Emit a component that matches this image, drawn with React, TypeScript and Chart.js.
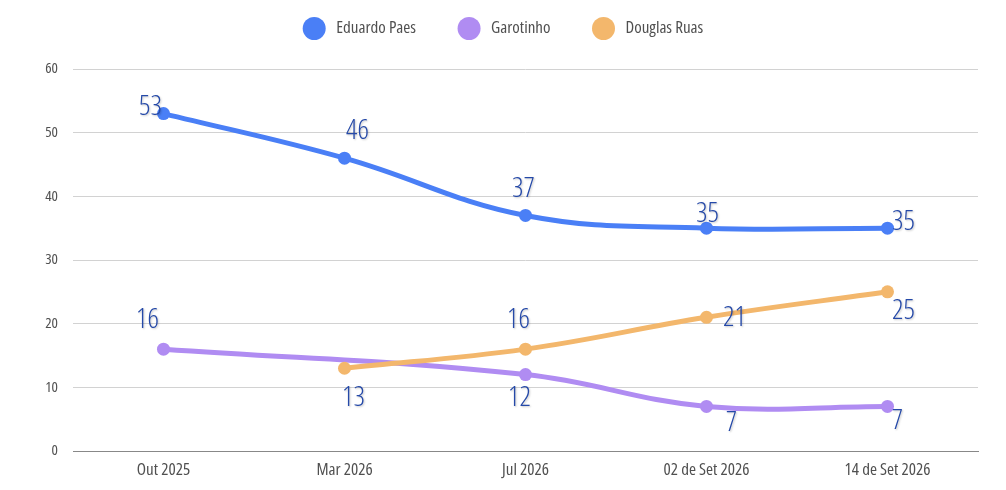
import React, { useEffect, useRef } from 'react';
import { Chart, registerables } from 'chart.js';

Chart.register(...registerables);

const categories = ['Out 2025', 'Mar 2026', 'Jul 2026', '02 de Set 2026', '14 de Set 2026'];
const seriesNames = ['Eduardo Paes', 'Garotinho', 'Douglas Ruas'];
const paesValues = [53, 46, 37, 35, 35];
const garotinhoValues = [16, null, 12, 7, 7];
const douglasValues = [null, 13, 16, 21, 25];
const yTickMin = 0;
const yTickMax = 60;
const yTickStep = 10;

// label placement (style): offset of each value label from its point
const paesLabelOffsets = [[-13, -8], [13, -28], [-2, -27], [1, -15], [16, -7]];
const garotinhoLabelOffsets = [[-16, -30], [0, 0], [-6, 22], [25, 16], [10, 14]];
const douglasLabelOffsets = [[0, 0], [9, 29], [-7, -30], [28, 0], [16, 18]];

const colors = ['#4a7ff6', '#b08cf2', '#f3b76c'];
const FAMILY = "'Open Sans', 'Roboto Condensed', sans-serif";
const STRETCH_WEIGHT = '400 condensed';

const labelPlugin = {
  id: 'valueLabels',
  afterDatasetsDraw(chart: any) {
    const ctx = chart.ctx;
    const offsets = [paesLabelOffsets, garotinhoLabelOffsets, douglasLabelOffsets];
    chart.data.datasets.forEach((ds: any, di: number) => {
      const meta = chart.getDatasetMeta(di);
      meta.data.forEach((el: any, i: number) => {
        const v = ds.data[i];
        if (v === null || v === undefined) return;
        const [dx, dy] = offsets[di][i];
        ctx.save();
        ctx.font = `300 condensed 28px ${FAMILY}`;
        ctx.textAlign = 'center';
        ctx.textBaseline = 'middle';
        ctx.shadowColor = 'rgba(0,0,0,0.22)';
        ctx.shadowBlur = 2;
        ctx.shadowOffsetX = 1;
        ctx.shadowOffsetY = 1;
        ctx.fillStyle = '#2549a8';
        ctx.fillText(String(v), el.x + dx, el.y + dy + 1);
        ctx.restore();
      });
    });
  },
};

const legendPlugin = {
  id: 'customLegend',
  afterDraw(chart: any) {
    const ctx = chart.ctx;
    ctx.save();
    ctx.font = `${STRETCH_WEIGHT} 17px ${FAMILY}`;
    const r = 11.5;
    const gapText = 22;
    const gapItem = 53;
    const widths = seriesNames.map((n) => ctx.measureText(n).width);
    let total = r;
    widths.forEach((w, i) => {
      total += gapText + w;
      if (i < widths.length - 1) total += gapItem;
    });
    let cx = chart.width / 2 - total / 2 + r;
    const cy = 28.5;
    seriesNames.forEach((n, i) => {
      ctx.beginPath();
      ctx.arc(cx, cy, r, 0, Math.PI * 2);
      ctx.fillStyle = colors[i];
      ctx.fill();
      ctx.fillStyle = '#505050';
      ctx.textAlign = 'left';
      ctx.textBaseline = 'middle';
      ctx.fillText(n, cx + gapText, cy);
      cx = cx + gapText + widths[i] + gapItem;
    });
    ctx.restore();
  },
};

export default function App() {
  const ref = useRef<HTMLCanvasElement>(null);

  useEffect(() => {
    document.body.style.margin = '0';
    if (!ref.current) return;
    const mk = (label: string, data: (number | null)[], color: string, order: number) => ({
      label,
      data,
      borderColor: color,
      backgroundColor: color,
      borderWidth: 5,
      pointRadius: 6.5,
      pointHoverRadius: 6.5,
      pointBackgroundColor: color,
      pointBorderWidth: 0,
      tension: 0.4,
      spanGaps: true,
      order,
    });
    const chart = new Chart(ref.current, {
      type: 'line',
      data: {
        labels: categories,
        datasets: [
          mk(seriesNames[0], paesValues, colors[0], 0),
          mk(seriesNames[1], garotinhoValues, colors[1], 2),
          mk(seriesNames[2], douglasValues, colors[2], 1),
        ],
      },
      options: {
        animation: false,
        responsive: false,
        maintainAspectRatio: false,
        layout: { padding: { top: 69, left: 8, right: 28, bottom: 0 } },
        plugins: {
          legend: { display: false },
          tooltip: { enabled: false },
          title: { display: false },
        },
        scales: {
          x: {
            offset: true,
            grid: { display: false, drawTicks: false },
            border: { display: true, color: '#888888', width: 1 },
            ticks: {
              color: '#505050',
              padding: 9,
              font: { family: FAMILY, size: 17, weight: STRETCH_WEIGHT as any },
              maxRotation: 0,
              autoSkip: false,
            },
            afterFit(s: any) {
              s.height = 39;
            },
          },
          y: {
            min: yTickMin,
            max: yTickMax,
            grid: { color: '#d2d2d2', drawTicks: false, lineWidth: 1 },
            border: { display: false },
            ticks: {
              stepSize: yTickStep,
              color: '#505050',
              padding: 15,
              font: { family: FAMILY, size: 15, weight: STRETCH_WEIGHT as any },
            },
            afterFit(s: any) {
              s.width = 65;
            },
          },
        },
      },
      plugins: [labelPlugin, legendPlugin],
    });
    return () => chart.destroy();
  }, []);

  return (
    <div style={{ width: 1006, height: 490, position: 'relative', background: '#fff' }}>
      <canvas ref={ref} width={1006} height={490} style={{ display: 'block', width: 1006, height: 490 }} />
    </div>
  );
}
